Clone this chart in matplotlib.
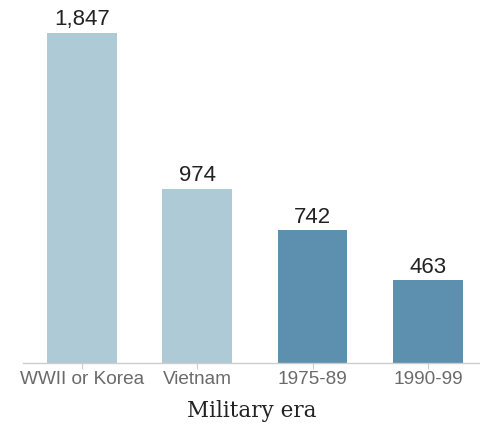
import matplotlib
matplotlib.use("Agg")
import matplotlib.pyplot as plt

eras = ["WWII or Korea", "Vietnam", "1975-89", "1990-99"]
counts = [1847, 974, 742, 463]
colors = ["#aecad6", "#aecad6", "#5d90ae", "#5d90ae"]


def draw():
    fig = plt.figure(figsize=(4.81, 4.25), dpi=100)
    ax = fig.add_axes([23 / 481, 62 / 425, 1 - 23 / 481, 357.4 / 425])

    bars = ax.bar(range(len(eras)), counts, width=0.605, color=colors)
    for rect, val in zip(bars, counts):
        ax.text(rect.get_x() + rect.get_width() / 2, val + 15, f"{val:,}",
                ha="center", va="bottom", fontsize=16,
                family="Liberation Sans", color="#222222")

    ax.set_xlim(-0.51, 3.46)
    ax.set_ylim(0, 2000)
    ax.set_xticks(range(len(eras)))
    ax.set_xticklabels(eras, fontsize=13.7, family="Liberation Sans",
                       color="#6a6a6a")
    ax.tick_params(axis="x", length=4, width=0.8, color="#cccccc", pad=2)
    ax.set_yticks([])
    for side in ["top", "right", "left"]:
        ax.spines[side].set_visible(False)
    ax.spines["bottom"].set_color("#cccccc")
    ax.spines["bottom"].set_linewidth(1)

    fig.text(252 / 481, 1 - 411 / 425, "Military era", ha="center",
             va="center", fontsize=15.5, family="DejaVu Serif",
             color="#222222")

    fig.savefig("out.png", dpi=100)


def main():
    draw()


if __name__ == "__main__":
    main()
